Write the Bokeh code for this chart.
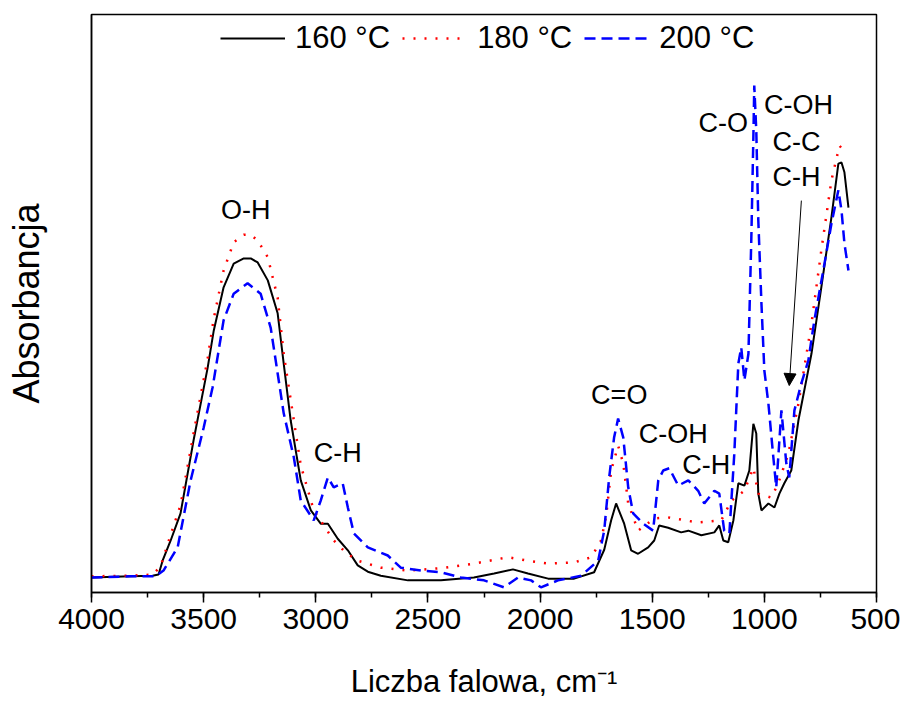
from bokeh.plotting import figure
from bokeh.models import Range1d, SingleIntervalTicker, FixedTicker, Legend, LegendItem, Arrow, NormalHead
from bokeh.core.properties import value
from bokeh.embed import file_html
from bokeh.resources import INLINE

FONT = "Liberation Sans"

# ---- data (wavenumber cm-1, absorbance a.u.) ----
wn_160 = [4000, 3826, 3728, 3701, 3683, 3647, 3603, 3545, 3482, 3455, 3411, 3366, 3321, 3290, 3259,
          3214, 3170, 3143, 3112, 3067, 3022, 2978, 2946, 2902, 2857, 2813, 2768, 2710, 2589, 2442,
          2295, 2205, 2121, 2054, 1964, 1848, 1759, 1714, 1683, 1661, 1625, 1594, 1563, 1518, 1491,
          1469, 1429, 1371, 1339, 1281, 1223, 1201, 1183, 1161, 1138, 1116, 1089, 1067, 1049, 1036,
          1027, 1013, 982, 955, 933, 911, 880, 848, 790, 746, 701, 670, 656, 643, 625]
a_160 = [0.026, 0.028, 0.029, 0.031, 0.055, 0.090, 0.137, 0.263, 0.389, 0.453, 0.528, 0.569, 0.578, 0.578, 0.571,
         0.540, 0.483, 0.396, 0.298, 0.194, 0.142, 0.119, 0.119, 0.093, 0.073, 0.047, 0.036, 0.029, 0.021, 0.021,
         0.026, 0.033, 0.040, 0.033, 0.024, 0.024, 0.035, 0.074, 0.125, 0.154, 0.119, 0.073, 0.067, 0.078, 0.090,
         0.116, 0.112, 0.104, 0.107, 0.099, 0.104, 0.116, 0.090, 0.087, 0.125, 0.189, 0.185, 0.211, 0.292, 0.275,
         0.171, 0.142, 0.154, 0.147, 0.171, 0.189, 0.211, 0.298, 0.413, 0.528, 0.649, 0.742, 0.744, 0.727, 0.666]

wn_180 = [4000, 3826, 3728, 3692, 3647, 3603, 3545, 3482, 3455, 3411, 3366, 3321, 3290, 3259, 3214,
          3170, 3143, 3098, 3067, 3009, 2964, 2920, 2866, 2813, 2710, 2589, 2442, 2295, 2143, 2054,
          1964, 1848, 1772, 1728, 1705, 1683, 1652, 1629, 1607, 1563, 1491, 1429, 1295, 1192, 1147,
          1089, 1049, 1027, 969, 938, 893, 848, 790, 746, 701, 665, 647]
a_180 = [0.028, 0.029, 0.031, 0.045, 0.100, 0.151, 0.275, 0.405, 0.474, 0.557, 0.606, 0.619, 0.619, 0.609, 0.580,
         0.510, 0.413, 0.298, 0.220, 0.142, 0.116, 0.090, 0.069, 0.055, 0.043, 0.038, 0.042, 0.050, 0.061, 0.055,
         0.050, 0.052, 0.061, 0.090, 0.133, 0.211, 0.254, 0.223, 0.154, 0.107, 0.128, 0.130, 0.121, 0.125, 0.159,
         0.176, 0.216, 0.171, 0.164, 0.189, 0.240, 0.327, 0.465, 0.592, 0.713, 0.773, 0.765]

wn_200 = [4000, 3826, 3714, 3679, 3616, 3558, 3500, 3460, 3411, 3366, 3304, 3246, 3201, 3170, 3143,
          3098, 3067, 3009, 2978, 2946, 2920, 2880, 2857, 2830, 2768, 2679, 2621, 2531, 2442, 2353,
          2250, 2161, 2098, 2040, 1996, 1920, 1817, 1741, 1714, 1692, 1670, 1652, 1629, 1607, 1585,
          1540, 1496, 1473, 1451, 1424, 1384, 1339, 1295, 1268, 1223, 1201, 1179, 1156, 1134, 1116,
          1103, 1089, 1071, 1058, 1049, 1045, 1036, 1027, 1013, 1000, 982, 960, 947, 924, 902,
          889, 866, 835, 804, 777, 732, 701, 670, 656, 643, 625]
a_200 = [0.026, 0.028, 0.028, 0.038, 0.078, 0.194, 0.285, 0.355, 0.471, 0.517, 0.535, 0.517, 0.458, 0.379, 0.310,
         0.234, 0.159, 0.125, 0.159, 0.199, 0.182, 0.189, 0.147, 0.102, 0.078, 0.064, 0.043, 0.038, 0.035, 0.026,
         0.021, 0.009, 0.026, 0.021, 0.009, 0.021, 0.029, 0.055, 0.107, 0.199, 0.268, 0.301, 0.268, 0.182, 0.137,
         0.119, 0.107, 0.194, 0.211, 0.215, 0.185, 0.194, 0.176, 0.154, 0.176, 0.171, 0.107, 0.102, 0.240, 0.396,
         0.424, 0.367, 0.413, 0.614, 0.787, 0.877, 0.799, 0.644, 0.500, 0.384, 0.327, 0.234, 0.182, 0.315, 0.223,
         0.199, 0.315, 0.362, 0.401, 0.471, 0.569, 0.638, 0.696, 0.661, 0.604, 0.557]

series_labels = ["160 °C", "180 °C", "200 °C"]
x_title = "Liczba falowa, cm⁻¹"
y_title = "Absorbancja"

# band annotations: (text, wavenumber, absorbance)
band_text = ["O-H", "C-H", "C=O", "C-OH", "C-H", "C-O", "C-OH", "C-C", "C-H"]
band_wn = [3312, 2902, 1647, 1406, 1259, 1183, 848, 857, 857]
band_a = [0.661, 0.242, 0.341, 0.275, 0.221, 0.813, 0.843, 0.779, 0.718]

arrow_start = (835, 0.678)
arrow_end = (889, 0.358)

# ---- figure ----
p = figure(width=900, height=702, output_backend="svg", toolbar_location=None,
           x_range=Range1d(4000, 500), y_range=Range1d(0, 1),
           min_border_left=91, min_border_right=24, min_border_top=14, min_border_bottom=110)
p.xgrid.visible = False
p.ygrid.visible = False
p.outline_line_color = "black"
p.outline_line_width = 1.5
p.background_fill_color = "white"
p.border_fill_color = "white"

r1 = p.line(wn_160, a_160, line_color="black", line_width=2)
r2 = p.line(wn_180, a_180, line_color="#ff0000", line_width=2.5, line_dash="2 9")
r3 = p.line(wn_200, a_200, line_color="#0000ff", line_width=2.5, line_dash="11 6")

xa = p.xaxis[0]
xa.ticker = SingleIntervalTicker(interval=500, num_minor_ticks=2)
xa.axis_label = x_title
xa.axis_label_text_font = FONT
xa.axis_label_text_font_size = "31px"
xa.axis_label_text_font_style = "normal"
xa.axis_label_text_color = "black"
xa.axis_label_standoff = 32
xa.major_label_text_font = FONT
xa.major_label_text_font_size = "30px"
xa.major_label_text_color = "black"
xa.major_label_standoff = 6
xa.major_tick_out = 10
xa.major_tick_in = 0
xa.minor_tick_out = 5
xa.minor_tick_in = 0
xa.axis_line_color = "black"
xa.major_tick_line_color = "black"
xa.minor_tick_line_color = "black"
xa.axis_line_width = 1.5
xa.major_tick_line_width = 1.5
xa.minor_tick_line_width = 1.5

ya = p.yaxis[0]
ya.ticker = FixedTicker(ticks=[])
ya.axis_label = y_title
ya.axis_label_text_font = FONT
ya.axis_label_text_font_size = "36px"
ya.axis_label_text_font_style = "normal"
ya.axis_label_text_color = "black"
ya.axis_label_standoff = 45
ya.major_tick_out = 0
ya.minor_tick_out = 0
ya.axis_line_color = "black"
ya.axis_line_width = 1.5

p.text(x=band_wn, y=band_a, text=band_text, text_font=value(FONT), text_font_size="27px",
       text_align="center", text_baseline="middle", text_color="black")

p.add_layout(Arrow(end=NormalHead(size=12, fill_color="black", line_color="black"),
                   x_start=arrow_start[0], y_start=arrow_start[1],
                   x_end=arrow_end[0], y_end=arrow_end[1], line_width=1, line_color="black"))

legend = Legend(items=[LegendItem(label=series_labels[0], renderers=[r1]),
                       LegendItem(label=series_labels[1], renderers=[r2]),
                       LegendItem(label=series_labels[2], renderers=[r3])],
                orientation="horizontal", location=(129, 536),
                glyph_width=65, glyph_height=20, label_standoff=10, spacing=12,
                padding=0, margin=0, border_line_color=None, background_fill_alpha=0,
                label_text_font=FONT, label_text_font_size="31px", label_text_color="black")
p.add_layout(legend)

open("out.html", "w").write(file_html(p, INLINE))
